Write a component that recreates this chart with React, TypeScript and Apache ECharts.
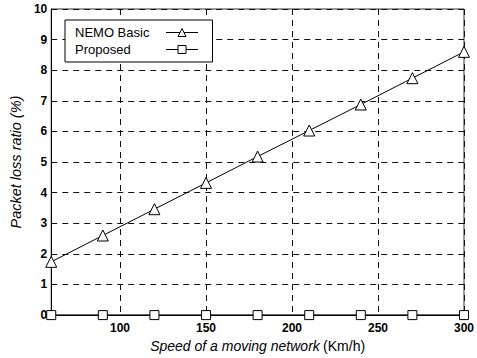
import React, { useEffect, useRef } from "react";
import * as echarts from "echarts";

const speeds = [60, 90, 120, 150, 180, 210, 240, 270, 300];
const nemoBasic = [1.74, 2.6, 3.46, 4.32, 5.18, 6.03, 6.88, 7.74, 8.6];
const proposed = [0, 0, 0, 0, 0, 0, 0, 0, 0];
const seriesNames = ["NEMO Basic", "Proposed"];

export default function App() {
  const ref = useRef<HTMLDivElement>(null);
  useEffect(() => {
    if (!ref.current) return;
    const chart = echarts.init(ref.current, null, { renderer: "svg" });
    const font = "'Liberation Sans', Arial, Helvetica, sans-serif";
    const dashed = { show: true, lineStyle: { color: "#111", type: [6, 5] as any, width: 1 } };
    chart.setOption({
      animation: false,
      backgroundColor: "#fff",
      textStyle: { fontFamily: font },
      grid: {
        left: 40,
        right: 10,
        top: 9,
        bottom: 38,
        show: true,
        borderColor: "#333",
        borderWidth: 1,
        backgroundColor: "transparent",
      },
      legend: {
        left: 65,
        top: 20,
        orient: "vertical",
        align: "right",
        backgroundColor: "#fff",
        borderColor: "#000",
        borderWidth: 1,
        borderRadius: 0,
        padding: [6, 14, 6, 10],
        itemGap: 4,
        itemWidth: 32,
        itemHeight: 10,
        itemStyle: { borderWidth: 1, color: "#fff", borderColor: "#000" },
        lineStyle: { width: 1, color: "#000" },
        formatter: (name: string) => "{a|" + name + "}",
        textStyle: {
          fontFamily: font,
          fontSize: 13,
          color: "#000",
          rich: {
            a: { width: 86, align: "left", fontSize: 13, fontFamily: font, color: "#000" },
          },
        },
        data: seriesNames,
      },
      xAxis: {
        type: "value",
        min: 60,
        max: 300,
        axisLine: { show: true, onZero: false, lineStyle: { color: "#000", width: 1 } },
        axisTick: { show: false },
        splitLine: dashed,
        axisLabel: {
          showMinLabel: false,
          color: "#000",
          fontSize: 12,
          fontWeight: "bold",
          fontFamily: font,
          margin: 7,
        },
        name: "{i|Speed of a moving network} {n|(Km/h)}",
        nameLocation: "middle",
        nameGap: 20,
        nameTextStyle: {
          rich: {
            i: { fontStyle: "italic", fontSize: 14, color: "#000", fontFamily: font },
            n: { fontSize: 14, color: "#000", fontFamily: font },
          },
        },
      },
      yAxis: {
        type: "value",
        min: 0,
        max: 10,
        interval: 1,
        axisLine: { show: true, lineStyle: { color: "#000", width: 1 } },
        axisTick: { show: false },
        splitLine: dashed,
        axisLabel: {
          color: "#000",
          fontSize: 12,
          fontWeight: "bold",
          fontFamily: font,
          margin: 4,
        },
        name: "Packet loss ratio (%)",
        nameLocation: "middle",
        nameGap: 21,
        nameTextStyle: { fontStyle: "italic", fontSize: 14.5, color: "#000", fontFamily: font },
      },
      series: [
        {
          name: seriesNames[0],
          type: "line",
          data: speeds.map((s, i) => [s, nemoBasic[i]]),
          symbol: "triangle",
          symbolSize: 11,
          color: "#000",
          lineStyle: { color: "#000", width: 1 },
          itemStyle: { color: "#fff", borderColor: "#000", borderWidth: 1 },
          z: 5,
        },
        {
          name: seriesNames[1],
          type: "line",
          data: speeds.map((s, i) => [s, proposed[i]]),
          symbol: "rect",
          symbolSize: 9,
          color: "#000",
          lineStyle: { color: "#000", width: 1 },
          itemStyle: { color: "#fff", borderColor: "#000", borderWidth: 1 },
          clip: false,
          z: 5,
        },
      ],
    });
    return () => chart.dispose();
  }, []);
  return (
    <div
      ref={ref}
      style={{ position: "fixed", left: 0, top: 0, width: 477, height: 358 }}
    />
  );
}
